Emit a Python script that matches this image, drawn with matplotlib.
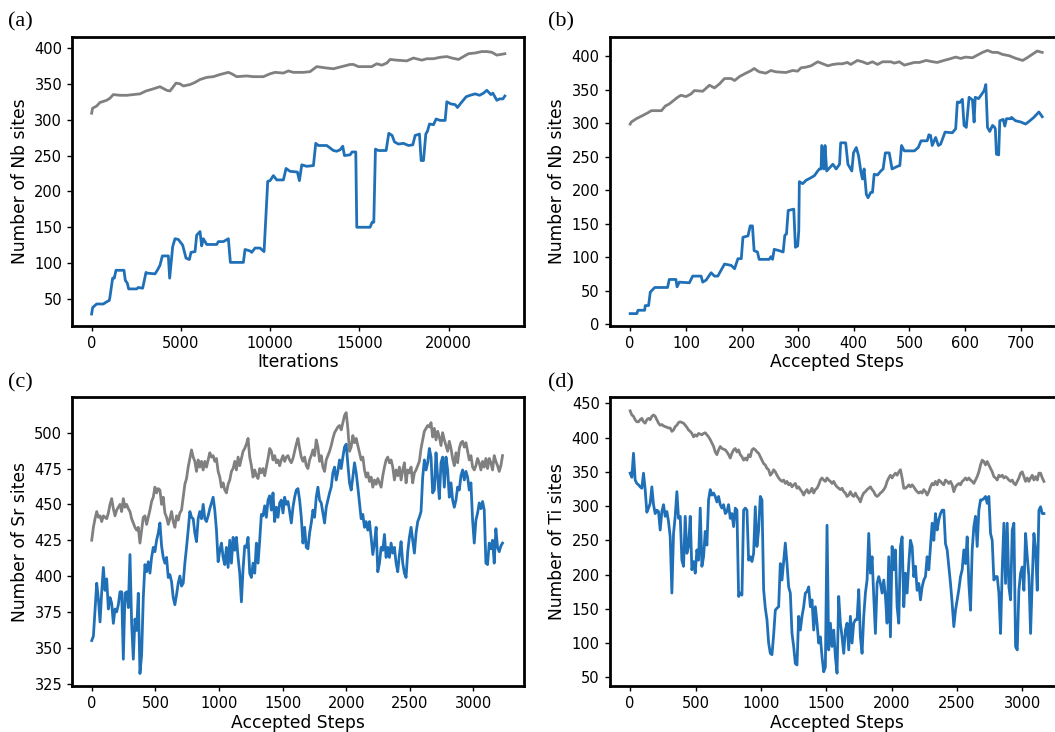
import numpy as np
import matplotlib
matplotlib.use('Agg')
import matplotlib.pyplot as plt

BLUE = '#2070b8'
GRAY = '#808080'

# ---------------- (a) ----------------
iter_a_blue = [0, 56, 280, 654, 841, 991, 1028, 1177, 1271, 1364, 1813, 1888, 2000, 2075, 2523, 2617, 2860,
               3046, 3121, 3551, 3682, 3831, 3962, 4299, 4373, 4542, 4672, 4859, 5102, 5289, 5476, 5570, 5794,
               5887, 6074, 6168, 6261, 6448, 7009, 7102, 7383, 7663, 7775, 8504, 8597, 8878, 8971, 9158, 9438,
               9663, 9868, 9999, 10186, 10373, 10747, 10896, 11120, 11532, 11644, 11775, 12055, 12429, 12560,
               12709, 13177, 13550, 13737, 13924, 14073, 14167, 14485, 14597, 14803, 14859, 15606, 15718, 15812,
               15905, 16073, 16503, 16653, 16840, 16971, 17195, 17475, 17756, 17999, 18129, 18372, 18466, 18597,
               18727, 18821, 18933, 19157, 19307, 19531, 19811, 19905, 20129, 20372, 20503, 20690, 20989, 21213,
               21494, 21737, 21961, 22148, 22372, 22484, 22709, 22858, 23045, 23157]
nb_a_blue = [29, 38, 43, 43, 46, 48, 53, 79, 79, 90, 90, 76, 72, 64, 64, 66, 65,
             87, 86, 85, 90, 97, 110, 110, 79, 123, 134, 133, 125, 107, 105, 115, 116,
             139, 144, 124, 134, 126, 126, 130, 130, 134, 101, 101, 119, 117, 115, 121, 121,
             116, 214, 215, 222, 216, 216, 232, 228, 227, 215, 237, 235, 236, 267,
             264, 264, 257, 256, 258, 263, 250, 251, 255, 255, 150, 150, 157, 157,
             259, 257, 257, 281, 278, 269, 266, 267, 264, 265, 278, 280, 243, 243,
             280, 284, 294, 293, 301, 299, 299, 325, 322, 321, 317, 323, 332, 334,
             336, 334, 337, 341, 335, 337, 327, 329, 329, 333]
iter_a_gray = [0, 56, 280, 467, 841, 1028, 1215, 1589, 1962, 2336, 2710, 3046, 3458, 3831, 4205, 4392, 4729,
               4953, 5140, 5514, 5794, 6074, 6448, 6822, 7196, 7663, 7850, 8130, 8691, 9065, 9625, 9999, 10280,
               10747, 11027, 11307, 11868, 12242, 12616, 13177, 13550, 14018, 14485, 14672, 14952, 15700, 15980,
               16260, 16541, 16728, 17101, 17662, 18036, 18503, 18783, 19157, 19531, 19905, 20185, 20559, 20839,
               21120, 21494, 21867, 22148, 22428, 22709, 23157]
nb_a_gray = [309, 316, 319, 324, 327, 330, 335, 334, 334, 335, 336, 340, 343, 346, 341, 340, 351,
             350, 347, 349, 352, 356, 359, 360, 363, 366, 364, 360, 361, 360, 360, 364, 366,
             365, 368, 366, 366, 367, 374, 372, 371, 374, 377, 377, 374, 374, 378,
             376, 379, 384, 383, 382, 386, 383, 385, 385, 387, 388, 386, 384, 388,
             392, 393, 395, 395, 394, 390, 392]

# ---------------- (b) ----------------
step_b_blue = [0, 12, 14, 26, 27, 33, 36, 44, 67, 70, 82, 84, 88, 106, 112, 127, 130, 136, 145, 151, 157, 163,
               169, 181, 187, 193, 199, 202, 211, 215, 219, 222, 228, 231, 249, 252, 255, 258, 267, 274, 277, 280,
               283, 293, 296, 300, 302, 303, 309, 315, 324, 330, 336, 339, 342, 343, 347, 349, 352, 363, 369, 375,
               377, 386, 390, 397, 400, 405, 409, 413, 416, 419, 423, 426, 431, 434, 437, 443, 449, 453, 457, 464,
               469, 479, 483, 486, 491, 509, 516, 521, 532, 535, 538, 541, 547, 552, 556, 564, 577, 583, 586, 590,
               595, 598, 602, 607, 613, 616, 618, 624, 630, 634, 637, 640, 644, 649, 652, 654, 656, 660, 662, 668,
               671, 674, 682, 683, 690, 700, 708, 713, 723, 732, 738]
nb_b_blue = [16, 16, 21, 21, 28, 28, 48, 55, 55, 67, 67, 56, 63, 62, 72, 72, 63, 66, 77, 72, 72, 81,
             90, 88, 83, 98, 98, 130, 132, 147, 147, 110, 108, 97, 97, 101, 97, 112, 110, 108, 133, 135,
             170, 172, 115, 117, 140, 213, 210, 215, 219, 222, 229, 232, 232, 267, 232, 267, 229, 239, 232, 239,
             271, 271, 239, 229, 256, 264, 252, 229, 217, 232, 194, 189, 197, 197, 224, 223, 229, 232, 256, 256,
             232, 236, 237, 267, 259, 259, 264, 274, 274, 283, 282, 267, 279, 267, 269, 287, 286, 292, 332, 331,
             336, 297, 294, 339, 335, 302, 339, 337, 344, 349, 358, 294, 288, 297, 295, 292, 254, 253, 304, 306,
             296, 307, 307, 309, 304, 302, 299, 302, 309, 317, 310]
step_b_gray = [0, 2, 11, 23, 32, 38, 56, 63, 70, 76, 85, 91, 100, 109, 115, 130, 142, 151, 160, 169, 181, 187,
               196, 205, 217, 222, 231, 243, 252, 261, 279, 291, 300, 306, 315, 324, 336, 345, 354, 363, 372, 380,
               389, 395, 407, 416, 425, 434, 443, 452, 467, 473, 482, 491, 500, 509, 518, 530, 542, 550, 562, 571,
               583, 592, 601, 613, 622, 631, 640, 649, 658, 667, 679, 691, 703, 711, 720, 729, 738]
nb_b_gray = [299, 302, 307, 312, 316, 319, 319, 326, 329, 333, 339, 342, 340, 344, 349, 348, 357, 353, 359, 367,
             367, 364, 370, 374, 379, 382, 377, 375, 379, 377, 376, 379, 378, 383, 384, 386, 392, 389, 386, 388,
             389, 389, 391, 388, 394, 392, 389, 392, 388, 392, 392, 390, 392, 387, 389, 391, 391, 394, 392, 391,
             394, 396, 399, 397, 399, 398, 402, 406, 409, 406, 406, 403, 401, 397, 394, 398, 403, 408, 406]

# ---------------- (c) ----------------  (values every 13.07 accepted steps)
sr_c_blue = [355, 358, 377, 395, 384, 368, 389, 406, 390, 398, 377, 385, 381, 367, 377, 375, 380, 389, 389, 342,
             388, 389, 378, 415, 367, 342, 370, 362, 388, 332, 345, 385, 408, 403, 410, 402, 413, 420, 417, 425,
             430, 437, 421, 413, 409, 413, 399, 401, 396, 385, 380, 387, 395, 400, 393, 395, 409, 420, 432, 445,
             441, 440, 430, 424, 440, 445, 440, 450, 440, 438, 442, 447, 451, 455, 446, 432, 410, 418, 423, 413,
             408, 420, 406, 425, 409, 427, 418, 427, 413, 402, 382, 405, 421, 420, 427, 402, 399, 409, 402, 423,
             409, 425, 443, 442, 449, 441, 453, 456, 446, 458, 438, 448, 441, 451, 453, 444, 455, 450, 452, 445,
             437, 448, 455, 460, 461, 453, 441, 423, 434, 420, 419, 430, 437, 446, 441, 455, 462, 453, 451, 444,
             437, 448, 453, 458, 462, 472, 476, 467, 473, 481, 475, 483, 490, 492, 478, 465, 460, 469, 479, 472,
             462, 451, 440, 443, 434, 438, 432, 438, 427, 415, 423, 434, 403, 409, 420, 418, 429, 413, 420, 413,
             423, 416, 420, 409, 403, 415, 424, 409, 402, 399, 417, 427, 434, 425, 416, 430, 438, 441, 445, 469,
             481, 474, 479, 489, 483, 458, 460, 486, 469, 454, 479, 483, 462, 483, 474, 455, 465, 453, 448, 453,
             462, 460, 470, 474, 467, 473, 469, 460, 465, 439, 423, 439, 444, 451, 447, 452, 446, 409, 408, 423,
             419, 425, 409, 433, 420, 417, 421, 423]
sr_c_gray = [425, 434, 440, 445, 441, 442, 438, 442, 441, 440, 444, 450, 454, 447, 442, 446, 448, 450, 445, 454,
             448, 450, 447, 445, 440, 437, 434, 432, 434, 423, 432, 441, 442, 436, 441, 446, 452, 455, 462, 458,
             461, 460, 450, 455, 444, 441, 436, 440, 445, 438, 434, 442, 439, 444, 446, 455, 464, 468, 476, 482,
             488, 483, 480, 473, 481, 476, 480, 474, 480, 476, 481, 486, 483, 484, 480, 482, 473, 469, 462, 465,
             460, 458, 464, 467, 473, 475, 480, 474, 483, 477, 482, 487, 489, 492, 496, 483, 477, 469, 474, 470,
             468, 475, 472, 475, 470, 476, 482, 489, 487, 481, 484, 479, 481, 477, 481, 484, 480, 483, 484, 481,
             479, 482, 487, 492, 496, 489, 483, 480, 483, 477, 475, 481, 484, 488, 484, 495, 490, 480, 484, 476,
             473, 481, 484, 487, 491, 496, 500, 502, 504, 505, 502, 507, 512, 514, 503, 487, 490, 498, 493, 496,
             491, 486, 481, 483, 474, 469, 472, 466, 469, 462, 467, 464, 468, 465, 462, 470, 476, 481, 483, 479,
             481, 476, 467, 474, 470, 476, 467, 474, 479, 465, 474, 472, 476, 465, 472, 474, 477, 480, 489, 495,
             501, 503, 505, 504, 507, 497, 503, 495, 501, 497, 491, 500, 495, 491, 487, 494, 489, 482, 477, 486,
             479, 489, 493, 494, 490, 493, 487, 481, 484, 476, 474, 477, 482, 479, 474, 480, 476, 482, 475, 482,
             479, 474, 484, 480, 477, 473, 477, 484]
STEP_C = 13.07

# ---------------- (d) ----------------  (values every 12.76 accepted steps)
ti_d_blue = [348, 342, 377, 338, 333, 331, 328, 326, 348, 324, 291, 297, 304, 328, 302, 289, 294, 292, 265, 292,
             302, 285, 292, 277, 255, 173, 260, 285, 321, 282, 285, 221, 212, 285, 231, 241, 285, 207, 219, 202,
             236, 221, 297, 212, 226, 263, 243, 309, 324, 316, 319, 314, 306, 314, 302, 297, 302, 289, 292, 302,
             282, 289, 270, 297, 294, 168, 173, 170, 294, 297, 294, 221, 226, 219, 231, 299, 241, 265, 314, 309,
             178, 151, 134, 100, 85, 83, 112, 148, 151, 153, 216, 192, 219, 246, 216, 182, 173, 114, 95, 70,
             68, 139, 119, 139, 153, 173, 175, 182, 153, 163, 119, 153, 129, 100, 109, 80, 58, 65, 272, 90,
             129, 95, 119, 80, 56, 168, 129, 109, 85, 119, 129, 90, 139, 100, 129, 134, 134, 178, 109, 85,
             139, 173, 192, 260, 202, 226, 168, 114, 187, 197, 187, 173, 192, 168, 129, 226, 109, 241, 207, 236,
             153, 129, 241, 255, 153, 202, 173, 216, 250, 241, 197, 212, 177, 187, 163, 182, 192, 197, 226, 207,
             241, 275, 250, 289, 265, 280, 289, 294, 294, 245, 236, 212, 187, 158, 124, 148, 163, 178, 197, 207,
             236, 216, 255, 187, 148, 236, 270, 285, 241, 294, 309, 309, 311, 314, 304, 314, 260, 250, 192, 197,
             197, 173, 114, 207, 275, 187, 275, 182, 163, 265, 275, 95, 90, 177, 202, 211, 177, 260, 226, 197,
             114, 192, 260, 236, 177, 294, 299, 289, 289]
ti_d_gray = [439, 433, 431, 426, 423, 423, 426, 428, 423, 421, 426, 428, 426, 431, 433, 431, 426, 421, 418, 419,
             417, 416, 415, 414, 414, 409, 411, 416, 418, 422, 423, 422, 421, 418, 415, 411, 409, 406, 401, 404,
             402, 406, 405, 404, 406, 407, 404, 401, 397, 392, 387, 379, 375, 382, 387, 384, 383, 382, 379, 375,
             370, 377, 382, 384, 379, 382, 375, 372, 367, 370, 367, 375, 372, 382, 384, 382, 379, 377, 372, 367,
             362, 360, 355, 353, 345, 348, 353, 350, 345, 341, 338, 336, 338, 333, 336, 331, 333, 328, 331, 333,
             326, 328, 324, 321, 316, 321, 324, 319, 321, 326, 319, 324, 326, 331, 338, 341, 338, 336, 341, 338,
             336, 333, 336, 331, 328, 326, 324, 326, 321, 319, 314, 316, 321, 316, 314, 319, 314, 311, 306, 314,
             319, 321, 324, 326, 328, 324, 321, 316, 314, 316, 319, 321, 324, 328, 336, 341, 345, 341, 345, 348,
             345, 350, 353, 341, 326, 326, 328, 331, 328, 331, 328, 324, 321, 319, 321, 319, 324, 321, 316, 321,
             328, 333, 331, 336, 331, 338, 336, 333, 331, 338, 336, 333, 336, 331, 321, 328, 331, 333, 331, 336,
             338, 341, 338, 341, 338, 336, 333, 338, 343, 350, 360, 367, 365, 360, 365, 360, 355, 350, 343, 341,
             338, 345, 343, 345, 341, 343, 341, 338, 336, 338, 333, 331, 336, 341, 348, 350, 343, 336, 341, 336,
             341, 345, 338, 343, 338, 348, 348, 341, 336]
STEP_D = 12.76

# ---------------- figure ----------------
fig = plt.figure(figsize=(10.55, 7.32), dpi=100)
W, H = 1055.0, 732.0


def add_ax(left, top, right, bottom):
    return fig.add_axes([left / W, 1 - bottom / H, (right - left) / W, (bottom - top) / H])


ax_a = add_ax(72, 37, 524, 326)
ax_b = add_ax(609.5, 37, 1064, 326)
ax_c = add_ax(72, 397, 524, 686)
ax_d = add_ax(609.5, 397, 1064, 686)

LW = 2.0
ax_a.plot(iter_a_gray, nb_a_gray, color=GRAY, lw=LW)
ax_a.plot(iter_a_blue, nb_a_blue, color=BLUE, lw=LW)
ax_b.plot(step_b_gray, nb_b_gray, color=GRAY, lw=LW)
ax_b.plot(step_b_blue, nb_b_blue, color=BLUE, lw=LW)
ax_c.plot(np.arange(len(sr_c_gray)) * STEP_C, sr_c_gray, color=GRAY, lw=LW)
ax_c.plot(np.arange(len(sr_c_blue)) * STEP_C, sr_c_blue, color=BLUE, lw=LW)
ax_d.plot(np.arange(len(ti_d_gray)) * STEP_D, ti_d_gray, color=GRAY, lw=LW)
ax_d.plot(np.arange(len(ti_d_blue)) * STEP_D, ti_d_blue, color=BLUE, lw=LW)

ax_a.set_xlim(-1100, 24230)
ax_a.set_ylim(12.3, 415.3)
ax_a.set_xticks([0, 5000, 10000, 15000, 20000])
ax_a.set_yticks([50, 100, 150, 200, 250, 300, 350, 400])

ax_b.set_xlim(-37, 777)
ax_b.set_ylim(-2.5, 429)
ax_b.set_xticks([0, 100, 200, 300, 400, 500, 600, 700])
ax_b.set_yticks([0, 50, 100, 150, 200, 250, 300, 350, 400])

ax_c.set_xlim(-155, 3397)
ax_c.set_ylim(323.3, 524.9)
ax_c.set_xticks([0, 500, 1000, 1500, 2000, 2500, 3000])
ax_c.set_yticks([325, 350, 375, 400, 425, 450, 475, 500])

ax_d.set_xlim(-158, 3318)
ax_d.set_ylim(37.3, 459.2)
ax_d.set_xticks([0, 500, 1000, 1500, 2000, 2500, 3000])
ax_d.set_yticks([50, 100, 150, 200, 250, 300, 350, 400, 450])

labels = [(ax_a, 'Iterations', 'Number of Nb sites'),
          (ax_b, 'Accepted Steps', 'Number of Nb sites'),
          (ax_c, 'Accepted Steps', 'Number of Sr sites'),
          (ax_d, 'Accepted Steps', 'Number of Ti sites')]
for ax, xl, yl in labels:
    ax.set_xlabel(xl, fontsize=12.3, labelpad=2)
    ax.set_ylabel(yl, fontsize=12.3, labelpad=4)
    ax.tick_params(labelsize=10.5, length=3.5, width=1)
    for s in ax.spines.values():
        s.set_linewidth(2.0)

serif = ['Liberation Serif', 'DejaVu Serif']
fig.text(8 / W, 1 - 22 / H, '(a)', family=serif, fontsize=16, va='center', ha='left')
fig.text(548 / W, 1 - 22 / H, '(b)', family=serif, fontsize=16, va='center', ha='left')
fig.text(8 / W, 1 - 383 / H, '(c)', family=serif, fontsize=16, va='center', ha='left')
fig.text(548 / W, 1 - 383 / H, '(d)', family=serif, fontsize=16, va='center', ha='left')

fig.savefig('out.png', dpi=100)
